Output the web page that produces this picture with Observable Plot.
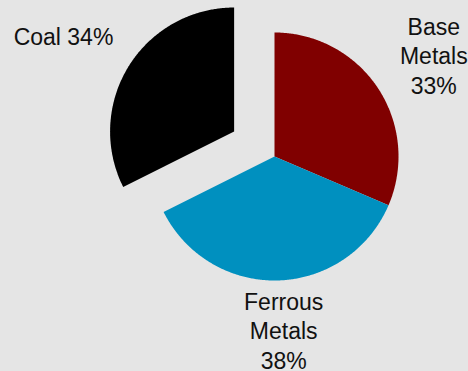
<!DOCTYPE html>
<html><head><meta charset="utf-8">
<script src="https://cdn.jsdelivr.net/npm/d3@7"></script>
<script src="https://cdn.jsdelivr.net/npm/@observablehq/plot@0.6"></script>
<style>html,body{margin:0;padding:0;background:#e5e5e5;}</style>
</head><body><div id="chart"></div>
<script>
// Data
const categories = ["Base Metals", "Ferrous Metals", "Coal"];
const values = [33, 38, 34];
const colors = ["#800000", "#0090bf", "#000000"];

// Layout (pixels / radius units)
const W = 468, H = 371, R = 124, cx = 274, cy = 156;
const explode = {"Coal": 0.383};
const labelRadius = {"Base Metals": 1.52, "Ferrous Metals": 1.40, "Coal": 1.57};
const labelNudge = {"Base Metals": [2, 2], "Ferrous Metals": [4, 0], "Coal": [-5, 6]}; // pixels

const arcs = d3.pie().sort(null).value(d => d.value)(categories.map((c, i) => ({name: c, value: values[i]})));

const polys = [];
const labels = [];
for (const a of arcs) {
  const name = a.data.name;
  const mid = (a.startAngle + a.endAngle) / 2;
  const off = explode[name] || 0;
  const ox = off * Math.sin(mid), oy = off * Math.cos(mid);
  polys.push({name, x: ox, y: oy});
  const n = Math.max(2, Math.ceil((a.endAngle - a.startAngle) / (Math.PI / 360)));
  for (let k = 0; k <= n; k++) {
    const t = a.startAngle + (a.endAngle - a.startAngle) * k / n;
    polys.push({name, x: ox + Math.sin(t), y: oy + Math.cos(t)});
  }
  polys.push({name, x: ox, y: oy});
  const lr = labelRadius[name];
  const [nx, ny] = labelNudge[name];
  const text = name.includes(" ")
    ? name.split(" ").join("\n") + "\n" + a.data.value + "%"
    : name + " " + a.data.value + "%";
  labels.push({name, x: ox + lr * Math.sin(mid) + nx / R, y: oy + lr * Math.cos(mid) - ny / R, text});
}

const chart = Plot.plot({
  width: W, height: H, margin: 0,
  x: {domain: [-cx / R, (W - cx) / R], axis: null},
  y: {domain: [-(H - cy) / R, cy / R], axis: null},
  color: {domain: categories, range: colors},
  style: {background: "#e5e5e5", fontFamily: "'Liberation Sans', Arial, sans-serif"},
  marks: [
    ...categories.map(c => Plot.line(polys.filter(d => d.name === c), {x: "x", y: "y", fill: colors[categories.indexOf(c)], stroke: "none", curve: "linear"})),
    Plot.text(labels, {x: "x", y: "y", text: "text", fontSize: 23, lineHeight: 1.28, fill: "#111"})
  ]
});
document.getElementById("chart").appendChild(chart);
</script>
</body></html>
